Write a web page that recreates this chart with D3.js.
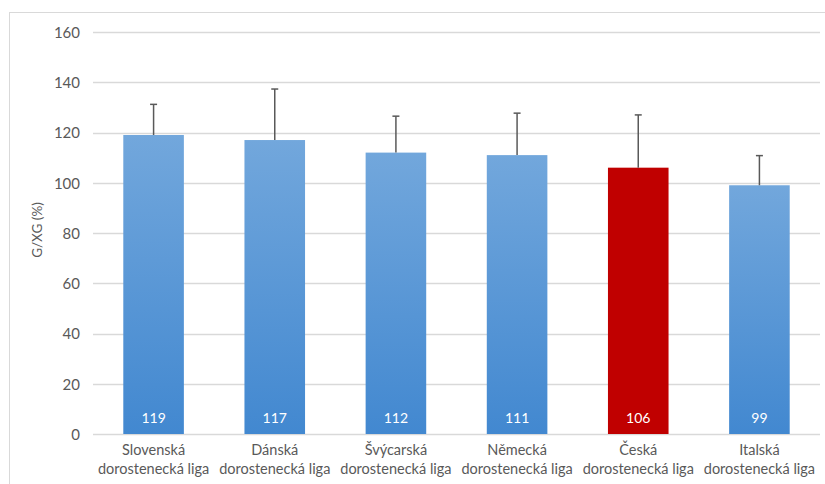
<!DOCTYPE html>
<html><head><meta charset="utf-8">
<script src="https://cdn.jsdelivr.net/npm/d3@7"></script>
<style>body{margin:0;background:#fff}svg{display:block}</style>
</head><body>
<svg id="c" width="825" height="484"></svg>
<script>
const line1 = ["Slovenská","Dánská","Švýcarská","Německá","Česká","Italská"];
const line2 = ["dorostenecká liga","dorostenecká liga","dorostenecká liga","dorostenecká liga","dorostenecká liga","dorostenecká liga"];
const values = [119,117,112,111,106,99];
const errors = [12.2,20.3,14.5,16.7,21,11.8];
const highlight = [false,false,false,false,true,false];
const yTicks = [0,20,40,60,80,100,120,140,160];

const svg = d3.select("#c");
const font = "Lato, 'Open Sans', sans-serif";
const M = {l:93, r:820, t:32, b:434};

svg.append("rect").attr("x",9.5).attr("y",12.5).attr("width",900).attr("height",600)
  .attr("fill","#fff").attr("stroke","#d9d9d9");

const defs = svg.append("defs");
const g = defs.append("linearGradient").attr("id","blue").attr("x1",0).attr("y1",0).attr("x2",0).attr("y2",1);
g.append("stop").attr("offset","0%").attr("stop-color","#72a7dc");
g.append("stop").attr("offset","100%").attr("stop-color","#4288d0");

const x = d3.scaleBand().domain(d3.range(values.length)).range([M.l,M.r]).paddingInner(0.5).paddingOuter(0.25);
const y = d3.scaleLinear().domain([0,160]).range([M.b,M.t]);

// gridlines
svg.append("g").selectAll("line").data(yTicks).join("line")
  .attr("x1",M.l).attr("x2",M.r)
  .attr("y1",d=>Math.round(y(d))+0.5).attr("y2",d=>Math.round(y(d))+0.5)
  .attr("stroke","#d9d9d9").attr("stroke-width",1.3);

// y axis labels
const yAxis = d3.axisLeft(y).tickValues(yTicks).tickSize(0).tickPadding(0);
const ya = svg.append("g").attr("transform",`translate(80,0)`).call(yAxis);
ya.select(".domain").remove();
ya.selectAll("text").attr("font-family",font).attr("font-size",15).attr("fill","#595959").attr("dy","0.35em");

svg.append("text").attr("transform","translate(42,230) rotate(-90)")
  .attr("text-anchor","middle").attr("font-family",font).attr("font-size",13.5)
  .attr("fill","#595959").text("G/XG (%)");

// bars
svg.append("g").selectAll("rect").data(values).join("rect")
  .attr("x",(d,i)=>x(i)).attr("width",x.bandwidth())
  .attr("y",d=>y(d)).attr("height",d=>y(0)-y(d))
  .attr("fill",(d,i)=>highlight[i]?"#c00000":"url(#blue)");

// error bars
const eb = svg.append("g").attr("stroke","#595959").attr("stroke-width",1.5);
values.forEach((v,i)=>{
  const cx = x(i)+x.bandwidth()/2;
  eb.append("line").attr("x1",cx).attr("x2",cx).attr("y1",y(v)).attr("y2",y(v+errors[i]));
  eb.append("line").attr("x1",cx-3.5).attr("x2",cx+3.5).attr("y1",y(v+errors[i])).attr("y2",y(v+errors[i]));
});

// value labels
svg.append("g").selectAll("text").data(values).join("text")
  .attr("x",(d,i)=>x(i)+x.bandwidth()/2).attr("y",423)
  .attr("text-anchor","middle").attr("font-family",font).attr("font-size",14)
  .attr("fill","#fff").text(d=>d);

// category labels
const cl = svg.append("g").attr("font-family",font).attr("font-size",14.5).attr("fill","#595959").attr("text-anchor","middle");
line1.forEach((t,i)=>{
  const cx = x(i)+x.bandwidth()/2;
  cl.append("text").attr("x",cx).attr("y",455).text(t);
  cl.append("text").attr("x",cx).attr("y",474).text(line2[i]);
});
</script>
</body></html>
